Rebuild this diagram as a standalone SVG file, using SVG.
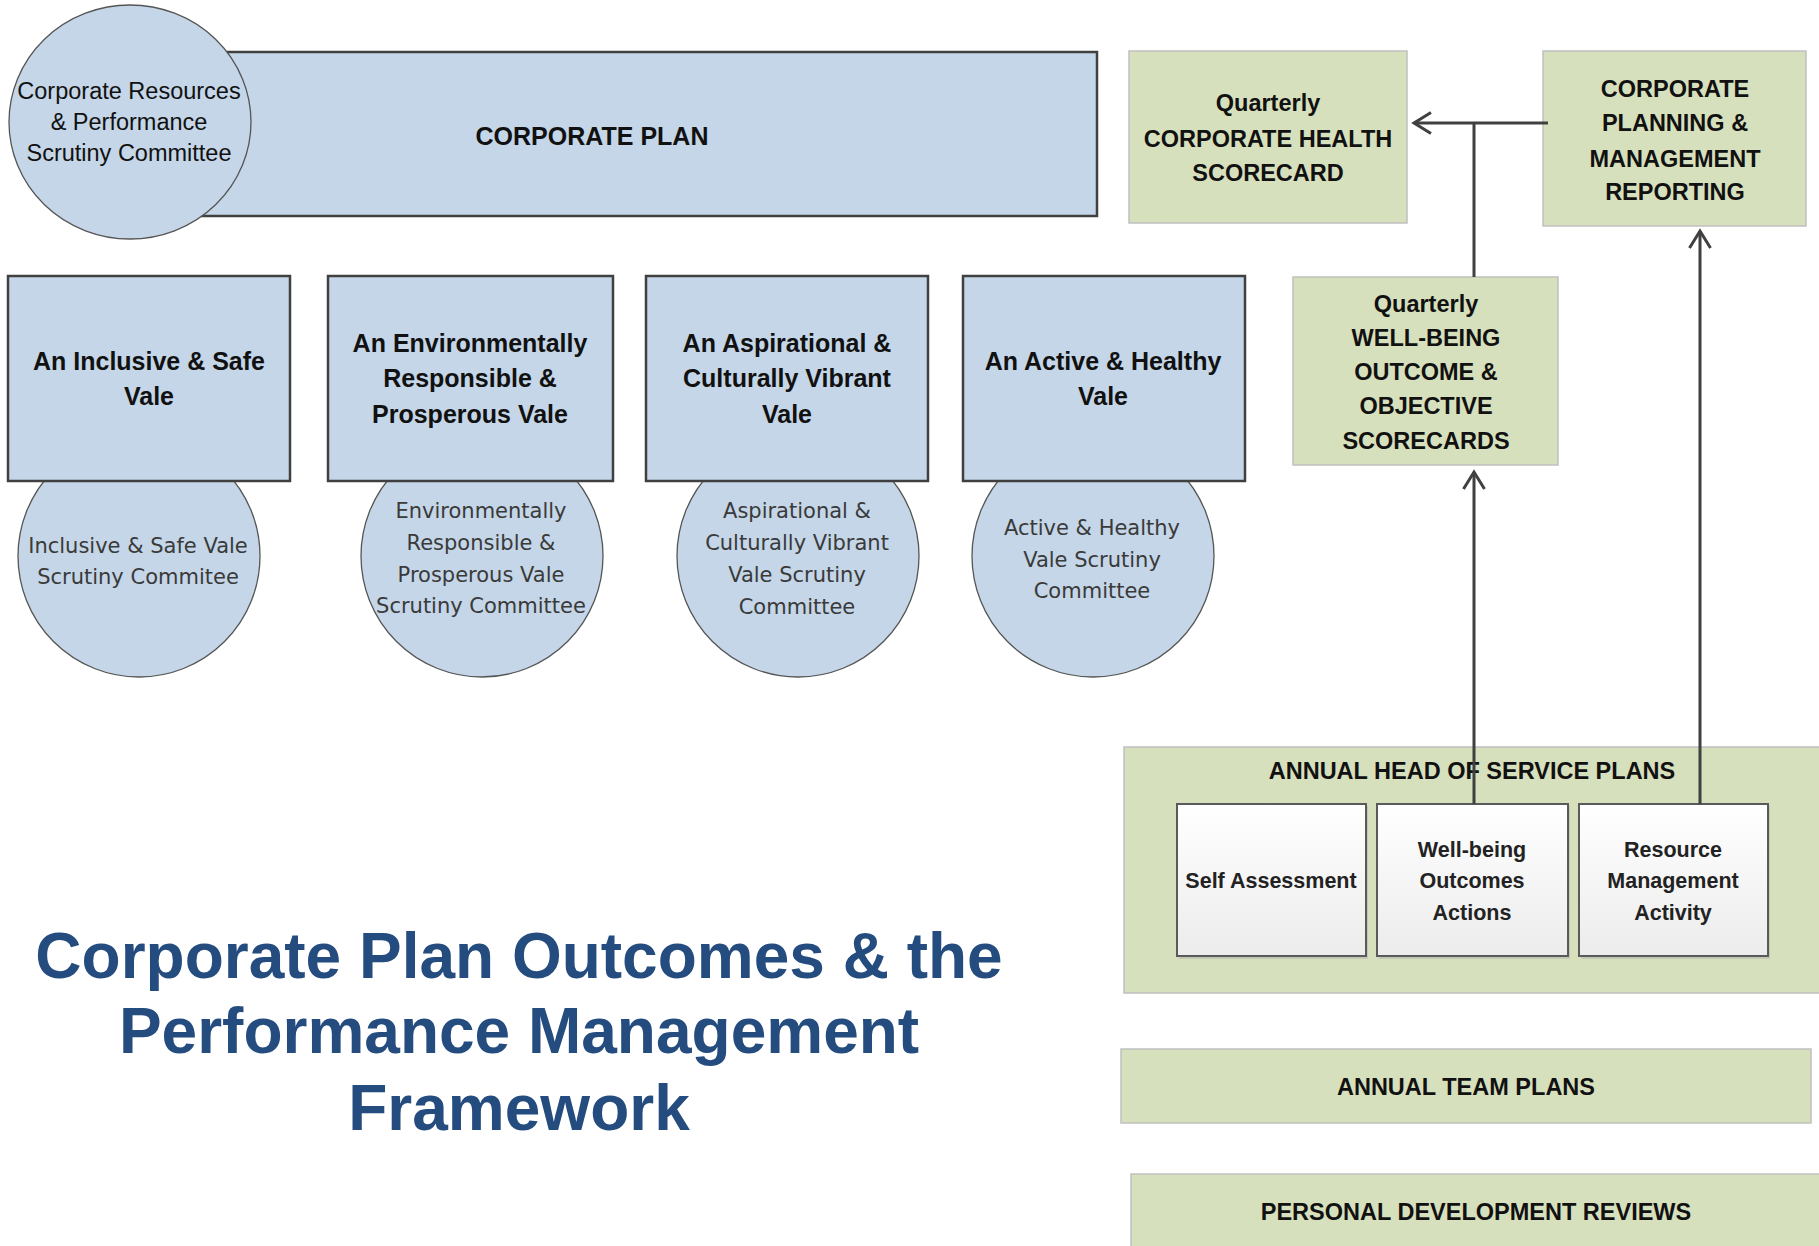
<svg xmlns="http://www.w3.org/2000/svg" width="1819" height="1246" viewBox="0 0 1819 1246">
  <defs>
    <linearGradient id="whiteCard" x1="0" y1="0" x2="0" y2="1">
      <stop offset="0" stop-color="#ffffff"/>
      <stop offset="1" stop-color="#ececec"/>
    </linearGradient>
    <marker id="chevron" viewBox="0 0 24 24" refX="21" refY="12" markerWidth="24" markerHeight="24" markerUnits="userSpaceOnUse" orient="auto">
      <path d="M4,1.5 L21,12 L4,22.5" fill="none" stroke="#404040" stroke-width="3"/>
    </marker>
    <style>
      .blue { fill: #c4d6e7; stroke: #404040; stroke-width: 2.5; }
      .bubble { fill: #c4d6e7; stroke: #555555; stroke-width: 1.3; }
      .green { fill: #d7e0bd; stroke: #c0c0c0; stroke-width: 1.5; }
      .card { fill: url(#whiteCard); stroke: #5a5a5a; stroke-width: 2; }
      .shadow { fill: #b0b0b0; opacity: 0.5; }
      .hd { font-family: "Liberation Sans", Arial, sans-serif; font-weight: bold; font-size: 25px; fill: #111111; text-anchor: middle; }
      .gr { font-family: "Liberation Sans", Arial, sans-serif; font-weight: bold; font-size: 23.5px; fill: #111111; text-anchor: middle; }
      .cd { font-family: "Liberation Sans", Arial, sans-serif; font-weight: bold; font-size: 21.5px; fill: #222222; text-anchor: middle; }
      .cm { font-family: "DejaVu Sans", Verdana, sans-serif; font-size: 21px; fill: #3a3a3a; text-anchor: middle; }
      .tc { font-family: "Liberation Sans", Arial, sans-serif; font-size: 23.5px; fill: #111111; text-anchor: middle; }
      .title { font-family: "Liberation Sans", Arial, sans-serif; font-weight: bold; font-size: 64px; fill: #244c7f; text-anchor: middle; }
      .wire { fill: none; stroke: #404040; stroke-width: 3; }
    </style>
  </defs>

  <!-- Corporate plan with its scrutiny committee -->
  <g id="corporate-plan">
    <rect class="blue" x="150" y="52" width="947" height="164"/>
    <text class="hd" x="592" y="145" font-size="23.5">CORPORATE PLAN</text>
  </g>
  <g id="corporate-scrutiny">
    <ellipse class="bubble" cx="130" cy="122" rx="121" ry="117"/>
    <text class="tc" x="129" y="99">Corporate Resources</text>
    <text class="tc" x="129" y="130">&amp; Performance</text>
    <text class="tc" x="129" y="161">Scrutiny Committee</text>
  </g>

  <!-- Scrutiny committees sit behind their outcome boxes -->
  <g id="inclusive-scrutiny">
    <circle class="bubble" cx="139" cy="556" r="121"/>
    <text class="cm" x="138" y="553">Inclusive &amp; Safe Vale</text>
    <text class="cm" x="138" y="584">Scrutiny Commitee</text>
  </g>
  <g id="environment-scrutiny">
    <circle class="bubble" cx="482" cy="556" r="121"/>
    <text class="cm" x="481" y="518">Environmentally</text>
    <text class="cm" x="481" y="550">Responsible &amp;</text>
    <text class="cm" x="481" y="582">Prosperous Vale</text>
    <text class="cm" x="481" y="613">Scrutiny Committee</text>
  </g>
  <g id="aspirational-scrutiny">
    <circle class="bubble" cx="798" cy="556" r="121"/>
    <text class="cm" x="797" y="518">Aspirational &amp;</text>
    <text class="cm" x="797" y="550">Culturally Vibrant</text>
    <text class="cm" x="797" y="582">Vale Scrutiny</text>
    <text class="cm" x="797" y="614">Committee</text>
  </g>
  <g id="active-scrutiny">
    <circle class="bubble" cx="1093" cy="556" r="121"/>
    <text class="cm" x="1092" y="535">Active &amp; Healthy</text>
    <text class="cm" x="1092" y="567">Vale Scrutiny</text>
    <text class="cm" x="1092" y="598">Committee</text>
  </g>

  <!-- Well-being outcomes -->
  <g id="inclusive-outcome">
    <rect class="blue" x="8" y="276" width="282" height="205"/>
    <text class="hd" x="149" y="370">An Inclusive &amp; Safe</text>
    <text class="hd" x="149" y="405">Vale</text>
  </g>
  <g id="environment-outcome">
    <rect class="blue" x="328" y="276" width="285" height="205"/>
    <text class="hd" x="470" y="352">An Environmentally</text>
    <text class="hd" x="470" y="387">Responsible &amp;</text>
    <text class="hd" x="470" y="423">Prosperous Vale</text>
  </g>
  <g id="aspirational-outcome">
    <rect class="blue" x="646" y="276" width="282" height="205"/>
    <text class="hd" x="787" y="352">An Aspirational &amp;</text>
    <text class="hd" x="787" y="387">Culturally Vibrant</text>
    <text class="hd" x="787" y="423">Vale</text>
  </g>
  <g id="active-outcome">
    <rect class="blue" x="963" y="276" width="282" height="205"/>
    <text class="hd" x="1103" y="370">An Active &amp; Healthy</text>
    <text class="hd" x="1103" y="405">Vale</text>
  </g>

  <!-- Reporting -->
  <g id="health-scorecard">
    <rect class="green" x="1129" y="51" width="278" height="172"/>
    <text class="gr" x="1268" y="111">Quarterly</text>
    <text class="gr" x="1268" y="147">CORPORATE HEALTH</text>
    <text class="gr" x="1268" y="181">SCORECARD</text>
  </g>
  <g id="management-reporting">
    <rect class="green" x="1543" y="51" width="263" height="175"/>
    <text class="gr" x="1675" y="97">CORPORATE</text>
    <text class="gr" x="1675" y="131">PLANNING &amp;</text>
    <text class="gr" x="1675" y="167">MANAGEMENT</text>
    <text class="gr" x="1675" y="200">REPORTING</text>
  </g>
  <g id="wellbeing-scorecards">
    <rect class="green" x="1293" y="277" width="265" height="188"/>
    <text class="gr" x="1426" y="312">Quarterly</text>
    <text class="gr" x="1426" y="346">WELL-BEING</text>
    <text class="gr" x="1426" y="380">OUTCOME &amp;</text>
    <text class="gr" x="1426" y="414">OBJECTIVE</text>
    <text class="gr" x="1426" y="449">SCORECARDS</text>
  </g>

  <!-- Planning tiers -->
  <g id="head-of-service-plans">
    <rect class="green" x="1124" y="747" width="710" height="246"/>
    <text class="gr" x="1472" y="779">ANNUAL HEAD OF SERVICE PLANS</text>
  </g>
  <g id="self-assessment">
    <rect class="shadow" x="1179" y="806" width="189" height="153"/>
    <rect class="card" x="1177" y="804" width="189" height="152"/>
    <text class="cd" x="1271" y="888">Self Assessment</text>
  </g>
  <g id="wellbeing-actions">
    <rect class="shadow" x="1379" y="806" width="191" height="153"/>
    <rect class="card" x="1377" y="804" width="191" height="152"/>
    <text class="cd" x="1472" y="857">Well-being</text>
    <text class="cd" x="1472" y="888">Outcomes</text>
    <text class="cd" x="1472" y="920">Actions</text>
  </g>
  <g id="resource-activity">
    <rect class="shadow" x="1581" y="806" width="189" height="153"/>
    <rect class="card" x="1579" y="804" width="189" height="152"/>
    <text class="cd" x="1673" y="857">Resource</text>
    <text class="cd" x="1673" y="888">Management</text>
    <text class="cd" x="1673" y="920">Activity</text>
  </g>
  <g id="team-plans">
    <rect class="green" x="1121" y="1049" width="690" height="74"/>
    <text class="gr" x="1466" y="1095">ANNUAL TEAM PLANS</text>
  </g>
  <g id="development-reviews">
    <rect class="green" x="1131" y="1174" width="700" height="90"/>
    <text class="gr" x="1476" y="1220">PERSONAL DEVELOPMENT REVIEWS</text>
  </g>

  <!-- Connectors -->
  <g id="connectors">
    <path class="wire" d="M1474,804 L1474,472" marker-end="url(#chevron)"/>
    <path class="wire" d="M1700,804 L1700,231" marker-end="url(#chevron)"/>
    <path class="wire" d="M1474,277 L1474,123"/>
    <path class="wire" d="M1548,123 L1414,123" marker-end="url(#chevron)"/>
  </g>

  <!-- Title -->
  <g id="title">
    <text class="title" x="519" y="978">Corporate Plan Outcomes &amp; the</text>
    <text class="title" x="519" y="1053">Performance Management</text>
    <text class="title" x="519" y="1130">Framework</text>
  </g>
</svg>
